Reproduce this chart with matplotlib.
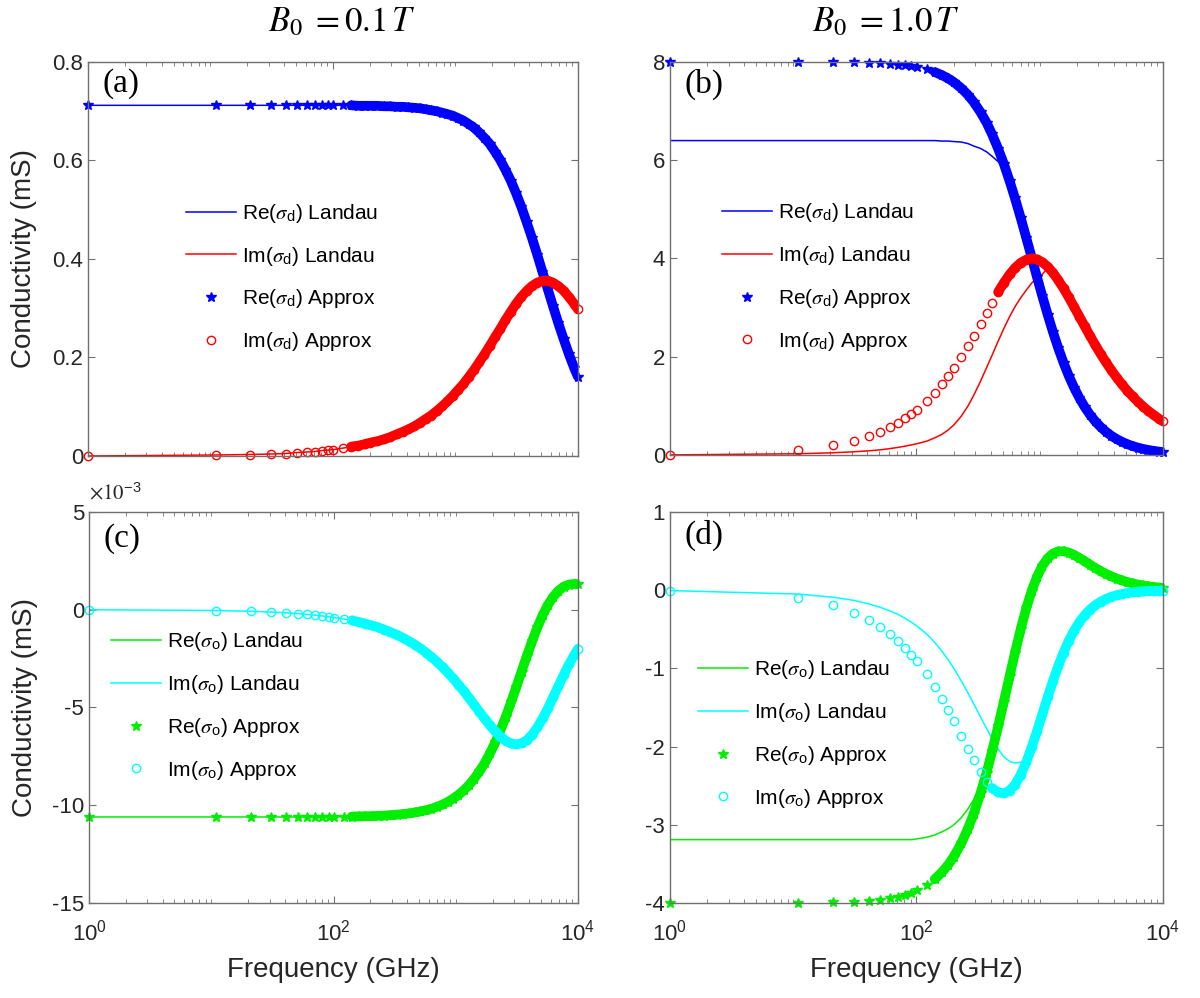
import numpy as np
import matplotlib
matplotlib.use('Agg')
import matplotlib.pyplot as plt
from matplotlib.ticker import LogLocator, NullFormatter, FormatStrFormatter

plt.rcParams['font.family'] = 'Liberation Sans'
plt.rcParams['mathtext.fontset'] = 'stix'
plt.rcParams['axes.unicode_minus'] = False

# frequency samples (GHz)
freq = [1, 11, 21, 31, 41, 51, 61, 71, 81, 91, 101, 121, 141, 161, 181, 201,
        231, 261, 291, 331, 371, 411, 461, 511, 571, 631, 701, 781, 861, 951,
        1051, 1161, 1281, 1411, 1561, 1721, 1901, 2101, 2321, 2561, 2831, 3121,
        3451, 3811, 4211, 4651, 5131, 5671, 6261, 6911, 7631, 8431, 9311, 10000]

# B0 = 0.1 T : Landau and approximate results lie on top of each other
re_sd_01 = [0.712, 0.712, 0.712, 0.712, 0.712, 0.712, 0.712, 0.712, 0.712, 0.712,
            0.712, 0.712, 0.712, 0.711, 0.711, 0.711, 0.711, 0.710, 0.710, 0.709,
            0.709, 0.708, 0.707, 0.706, 0.704, 0.702, 0.700, 0.697, 0.694, 0.691,
            0.686, 0.681, 0.674, 0.667, 0.657, 0.646, 0.634, 0.618, 0.601, 0.581,
            0.559, 0.534, 0.506, 0.475, 0.443, 0.409, 0.374, 0.339, 0.304, 0.270,
            0.238, 0.207, 0.179, 0.161]
im_sd_01 = [0.000, 0.002, 0.003, 0.004, 0.005, 0.007, 0.008, 0.009, 0.011, 0.012,
            0.013, 0.016, 0.019, 0.021, 0.024, 0.027, 0.030, 0.034, 0.038, 0.044,
            0.049, 0.054, 0.060, 0.067, 0.075, 0.082, 0.091, 0.101, 0.111, 0.122,
            0.134, 0.146, 0.160, 0.174, 0.190, 0.206, 0.223, 0.241, 0.258, 0.276,
            0.293, 0.309, 0.323, 0.335, 0.345, 0.352, 0.356, 0.356, 0.352, 0.345,
            0.336, 0.323, 0.309, 0.298]
# off-diagonal terms in units of 1e-3 mS
re_so_01 = [-10.60, -10.60, -10.60, -10.60, -10.60, -10.60, -10.60, -10.59, -10.59, -10.59,
            -10.59, -10.58, -10.58, -10.57, -10.56, -10.56, -10.54, -10.53, -10.51, -10.48,
            -10.45, -10.42, -10.37, -10.32, -10.25, -10.18, -10.08, -9.96, -9.83, -9.66,
            -9.47, -9.24, -8.97, -8.65, -8.27, -7.85, -7.35, -6.79, -6.16, -5.48,
            -4.73, -3.97, -3.16, -2.37, -1.61, -0.90, -0.28, 0.25, 0.66, 0.97,
            1.18, 1.29, 1.32, 1.31]
im_so_01 = [-0.00, -0.04, -0.08, -0.12, -0.16, -0.20, -0.24, -0.28, -0.32, -0.36,
            -0.40, -0.48, -0.55, -0.63, -0.71, -0.79, -0.90, -1.02, -1.14, -1.29,
            -1.44, -1.60, -1.78, -1.97, -2.19, -2.41, -2.66, -2.94, -3.22, -3.51,
            -3.83, -4.16, -4.51, -4.85, -5.22, -5.57, -5.91, -6.22, -6.49, -6.70,
            -6.84, -6.89, -6.83, -6.67, -6.39, -6.02, -5.56, -5.04, -4.47, -3.90,
            -3.34, -2.80, -2.32, -2.00]

# B0 = 1.0 T, approximate model
re_sd_approx_1 = [8.000, 7.999, 7.995, 7.990, 7.982, 7.972, 7.960, 7.947, 7.930, 7.913,
                  7.892, 7.847, 7.793, 7.732, 7.664, 7.590, 7.467, 7.333, 7.187, 6.978,
                  6.762, 6.527, 6.230, 5.930, 5.572, 5.221, 4.829, 4.407, 4.019, 3.622,
                  3.231, 2.856, 2.505, 2.185, 1.879, 1.613, 1.372, 1.160, 0.976, 0.819,
                  0.683, 0.571, 0.473, 0.392, 0.324, 0.268, 0.221, 0.182, 0.150, 0.123,
                  0.102, 0.083, 0.069, 0.059]
im_sd_approx_1 = [0.009, 0.102, 0.194, 0.286, 0.378, 0.470, 0.561, 0.652, 0.743, 0.832,
                  0.922, 1.098, 1.270, 1.439, 1.604, 1.764, 1.994, 2.212, 2.418, 2.670,
                  2.900, 3.101, 3.320, 3.503, 3.678, 3.809, 3.913, 3.979, 4.000, 3.982,
                  3.925, 3.833, 3.710, 3.565, 3.392, 3.210, 3.016, 2.816, 2.618, 2.425,
                  2.236, 2.059, 1.887, 1.727, 1.577, 1.438, 1.311, 1.193, 1.085, 0.986,
                  0.895, 0.812, 0.737, 0.687]
re_so_approx_1 = [-4.000, -3.998, -3.993, -3.985, -3.973, -3.959, -3.941, -3.920, -3.896, -3.870,
                  -3.840, -3.773, -3.695, -3.607, -3.511, -3.406, -3.237, -3.054, -2.863, -2.598,
                  -2.332, -2.061, -1.737, -1.431, -1.095, -0.797, -0.500, -0.224, -0.009, 0.171,
                  0.311, 0.408, 0.468, 0.496, 0.498, 0.481, 0.451, 0.412, 0.369, 0.326,
                  0.283, 0.245, 0.208, 0.177, 0.149, 0.125, 0.104, 0.087, 0.072, 0.060,
                  0.049, 0.041, 0.034, 0.029]
im_so_approx_1 = [-0.009, -0.102, -0.194, -0.286, -0.377, -0.468, -0.559, -0.648, -0.736, -0.823,
                  -0.909, -1.077, -1.237, -1.391, -1.537, -1.673, -1.861, -2.028, -2.172, -2.329,
                  -2.452, -2.530, -2.586, -2.597, -2.562, -2.486, -2.362, -2.192, -2.009, -1.803,
                  -1.585, -1.368, -1.162, -0.974, -0.797, -0.647, -0.517, -0.408, -0.319, -0.248,
                  -0.191, -0.147, -0.112, -0.085, -0.064, -0.048, -0.036, -0.027, -0.020, -0.015,
                  -0.011, -0.008, -0.006, -0.005]

# B0 = 1.0 T, Landau result: differs at low frequency, then follows the approximation
re_sd_landau_1 = [6.40, 6.40, 6.40, 6.40, 6.40, 6.40, 6.40, 6.40, 6.40, 6.40,
                  6.40, 6.40, 6.40, 6.39, 6.39, 6.38, 6.37, 6.34, 6.29, 6.24,
                  6.17, 6.08, 5.97, 5.85, 5.57]
im_sd_landau_1 = [0.002, 0.025, 0.045, 0.065, 0.085, 0.105, 0.130, 0.155, 0.180, 0.205,
                  0.230, 0.280, 0.350, 0.420, 0.510, 0.610, 0.790, 0.990, 1.210, 1.500,
                  1.780, 2.030, 2.320, 2.570, 2.820, 3.020, 3.200, 3.360, 3.500, 3.600,
                  3.680, 3.800]
re_so_landau_1 = [-3.19, -3.19, -3.19, -3.19, -3.19, -3.19, -3.19, -3.19, -3.19, -3.19,
                  -3.18, -3.16, -3.13, -3.09, -3.05, -3.00, -2.91, -2.80, -2.68, -2.50,
                  -2.33]
im_so_landau_1 = [-0.005, -0.050, -0.090, -0.130, -0.175, -0.220, -0.265, -0.310, -0.360, -0.410,
                  -0.460, -0.560, -0.670, -0.780, -0.890, -1.000, -1.160, -1.310, -1.450, -1.620,
                  -1.770, -1.900, -2.030, -2.130, -2.190, -2.210, -2.200, -2.190]

re_sd_landau_1 = re_sd_landau_1 + re_sd_approx_1[len(re_sd_landau_1):]
im_sd_landau_1 = im_sd_landau_1 + im_sd_approx_1[len(im_sd_landau_1):]
re_so_landau_1 = re_so_landau_1 + re_so_approx_1[len(re_so_landau_1):]
im_so_landau_1 = im_so_landau_1 + im_so_approx_1[len(im_so_landau_1):]

f = np.array(freq)


def draw(ax, re_l, im_l, re_a, im_a, c_re, c_im, sub, ring_start):
    ax.plot(f, re_l, color=c_re, lw=1.1,
            label=r'Re($\sigma_{\mathdefault{%s}}$) Landau' % sub)
    ax.plot(f, im_l, color=c_im, lw=1.1,
            label=r'Im($\sigma_{\mathdefault{%s}}$) Landau' % sub)
    # the approximation is sampled so densely that it reads as a thick band
    k = freq.index(141)
    ax.plot(f[k:], np.array(re_a)[k:], color=c_re, lw=7, solid_capstyle='round')
    ax.plot(f, re_a, ls='none', marker='*', ms=7, color=c_re, clip_on=False,
            label=r'Re($\sigma_{\mathdefault{%s}}$) Approx' % sub)
    k = freq.index(ring_start)
    ax.plot(f[k:], np.array(im_a)[k:], color=c_im, lw=7, solid_capstyle='round')
    ax.plot(f, im_a, ls='none', marker='o', ms=6, mfc='none', mec=c_im, mew=1.0,
            clip_on=False, label=r'Im($\sigma_{\mathdefault{%s}}$) Approx' % sub)


def style(ax, ylim, yticks, xlabels):
    ax.set_xscale('log')
    ax.set_xlim(1, 1e4)
    ax.set_ylim(*ylim)
    ax.set_yticks(yticks)
    ax.yaxis.set_major_formatter(FormatStrFormatter('%g'))
    ax.set_xticks([1, 100, 10000])
    ax.xaxis.set_minor_locator(LogLocator(base=10, subs=np.arange(1, 10), numticks=40))
    ax.xaxis.set_minor_formatter(NullFormatter())
    ax.tick_params(which='both', direction='in', top=True, right=True,
                   color='#707070', labelcolor='#262626', labelsize=16)
    ax.tick_params(which='major', length=5, width=0.8)
    ax.tick_params(which='minor', length=3, width=0.6)
    ax.tick_params(axis='x', pad=12)
    for s in ax.spines.values():
        s.set_color('#707070')
        s.set_linewidth(1.0)
    if xlabels:
        ax.set_xlabel('Frequency (GHz)', fontsize=20, color='#262626', va='center')
        ax.xaxis.set_label_coords(0.5, -0.171)
    else:
        ax.tick_params(labelbottom=False)


def legend(ax, x, y):
    ax.legend(loc='center left', bbox_to_anchor=(x, y), frameon=False, fontsize=15,
              handlelength=2.4, handletextpad=0.3, labelspacing=0.95,
              borderpad=0, borderaxespad=0)


fig = plt.figure(figsize=(12, 9.98), dpi=100)
ax_a = fig.add_axes([0.0733, 0.5431, 0.4083, 0.3948])
ax_b = fig.add_axes([0.5583, 0.5441, 0.4108, 0.3938])
ax_c = fig.add_axes([0.0742, 0.0952, 0.4075, 0.3918])
ax_d = fig.add_axes([0.5583, 0.0952, 0.4108, 0.3918])

draw(ax_a, re_sd_01, im_sd_01, re_sd_01, im_sd_01, 'blue', 'red', 'd', 141)
draw(ax_b, re_sd_landau_1, im_sd_landau_1, re_sd_approx_1, im_sd_approx_1,
     'blue', 'red', 'd', 461)
draw(ax_c, re_so_01, im_so_01, re_so_01, im_so_01, '#00ee00', 'cyan', 'o', 141)
draw(ax_d, re_so_landau_1, im_so_landau_1, re_so_approx_1, im_so_approx_1,
     '#00ee00', 'cyan', 'o', 411)

style(ax_a, (0, 0.8), [0, 0.2, 0.4, 0.6, 0.8], False)
style(ax_b, (0, 8), [0, 2, 4, 6, 8], False)
style(ax_c, (-15, 5), [-15, -10, -5, 0, 5], True)
style(ax_d, (-4, 1), [-4, -3, -2, -1, 0, 1], True)

legend(ax_a, 0.2, 0.453)
legend(ax_b, 0.105, 0.453)
legend(ax_c, 0.045, 0.504)
legend(ax_d, 0.057, 0.432)

for ax, letter, y in [(ax_a, '(a)', 0.944), (ax_b, '(b)', 0.944),
                      (ax_c, '(c)', 0.933), (ax_d, '(d)', 0.94)]:
    ax.text(0.03, y, letter, transform=ax.transAxes, fontsize=24,
            family='Liberation Serif', ha='left', va='center')

for ax in (ax_a, ax_c):
    ax.set_ylabel('Conductivity (mS)', fontsize=20, color='#262626', va='center')
    ax.yaxis.set_label_coords(-0.13, 0.5)

ax_c.text(0.0, 1.023, r'$\times10^{\mathdefault{-3}}$', transform=ax_c.transAxes,
          fontsize=15, color='#262626', ha='left', va='bottom')

fig.text(342 / 1200, 1 - 22 / 998, r'$B_0\;=0.1\,T$', fontsize=25, ha='center', va='center')
fig.text(886 / 1200, 1 - 22 / 998, r'$B_0\;=1.0\,T$', fontsize=25, ha='center', va='center')

fig.savefig('out.png', dpi=100, facecolor='white')
